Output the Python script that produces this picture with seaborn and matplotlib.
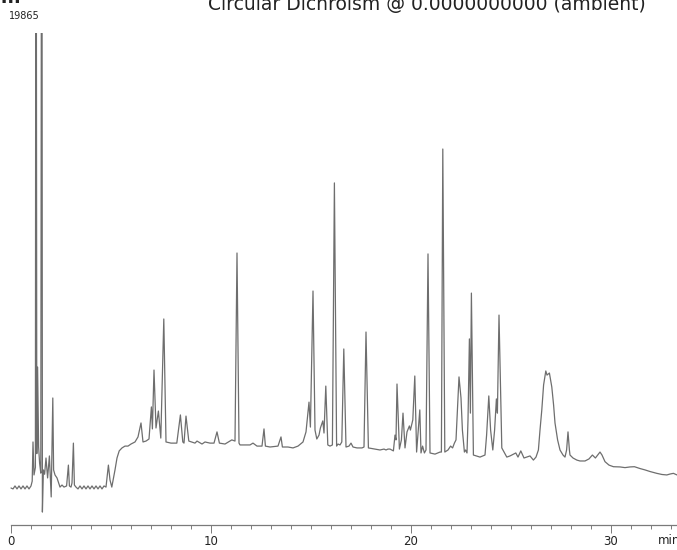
import matplotlib
matplotlib.use("Agg")
import matplotlib.pyplot as plt
import seaborn as sns

# ── Chromatogram trace ────────────────────────────────────────
time_min = [
    0.00, 0.10, 0.20, 0.30, 0.40, 0.50, 0.60, 0.70, 0.80, 0.90, 1.00,
    1.06, 1.10, 1.15, 1.22, 1.25, 1.29, 1.33, 1.38, 1.43, 1.49, 1.54,
    1.57, 1.62, 1.68, 1.75, 1.83, 1.92, 2.01, 2.09, 2.13, 2.20, 2.30,
    2.45, 2.55, 2.65, 2.78, 2.87, 2.92, 3.00, 3.05, 3.12, 3.17, 3.25,
    3.35, 3.45, 3.55, 3.65, 3.75, 3.85, 3.95, 4.05, 4.15, 4.25, 4.35,
    4.45, 4.55, 4.65, 4.75, 4.87, 4.95, 5.04, 5.20, 5.30, 5.41, 5.55,
    5.70, 5.85, 6.00, 6.20, 6.35, 6.50, 6.60, 6.75, 6.90, 7.02, 7.07,
    7.15, 7.25, 7.37, 7.49, 7.64, 7.75, 8.00, 8.29, 8.47, 8.59, 8.65,
    8.75, 8.89, 9.20, 9.30, 9.55, 9.70, 9.95, 10.15, 10.30, 10.42,
    10.70, 11.04, 11.20, 11.30, 11.40, 11.45, 11.95, 12.10, 12.30,
    12.55, 12.65, 12.72, 12.95, 13.35, 13.50, 13.57, 13.85, 14.10,
    14.35, 14.60, 14.75, 14.90, 14.97, 15.10, 15.20, 15.29, 15.40,
    15.47, 15.59, 15.65, 15.74, 15.84, 15.95, 16.07, 16.17, 16.28,
    16.35, 16.45, 16.54, 16.64, 16.75, 16.90, 17.00, 17.10, 17.30,
    17.55, 17.65, 17.75, 17.87, 18.20, 18.45, 18.65, 18.75, 18.85,
    18.95, 19.12, 19.20, 19.25, 19.30, 19.42, 19.52, 19.60, 19.70,
    19.80, 19.92, 19.97, 20.09, 20.19, 20.28, 20.44, 20.50, 20.58,
    20.67, 20.75, 20.85, 20.95, 21.20, 21.45, 21.52, 21.59, 21.69,
    21.85, 21.98, 22.08, 22.17, 22.25, 22.40, 22.50, 22.57, 22.67,
    22.73, 22.80, 22.85, 22.92, 22.97, 23.02, 23.12, 23.45, 23.70,
    23.78, 23.89, 23.98, 24.09, 24.18, 24.27, 24.32, 24.40, 24.54,
    24.79, 24.95, 25.24, 25.35, 25.49, 25.65, 25.95, 26.12, 26.25,
    26.37, 26.45, 26.54, 26.63, 26.74, 26.80, 26.92, 27.04, 27.13,
    27.20, 27.33, 27.45, 27.60, 27.70, 27.78, 27.85, 27.92, 27.95,
    28.10, 28.29, 28.45, 28.70, 28.90, 29.07, 29.22, 29.45, 29.55,
    29.70, 29.90, 30.12, 30.45, 30.70, 30.95, 31.17, 31.45, 31.70,
    31.95, 32.29, 32.55, 32.79, 32.95, 33.12, 33.30,
]

signal = [
    0, -40, 90, -40, 90, -40, 90, -40, 90, -40, 90,
    300, 2010, 570, 900, 40000, 1500, 5280, 1800, 1090, 650, 40000,
    -1050, 790, 600, 1310, 440, 1400, -390, 3930, 790, 570, 440,
    40, 130, 40, 90, 1000, 90, 40, 220, 1960, 130, 40,
    -40, 90, -40, 90, -40, 90, -40, 90, -40, 90, -40,
    90, -40, 90, 40, 1000, 350, 40, 790, 1310, 1620, 1750,
    1830, 1830, 1920, 2010, 2230, 2840, 2010, 2050, 2140, 3540, 2580,
    5150, 2620, 3360, 2180, 7380, 2010, 1960, 1960, 3190, 2010, 1960,
    3140, 2050, 1960, 2050, 1920, 2010, 1960, 1960, 2450, 1960,
    1920, 2100, 2050, 10260, 1960, 1880, 1880, 1960, 1830,
    1830, 2580, 1830, 1790, 1830, 2230, 1790, 1790, 1750,
    1830, 2010, 2450, 3750, 2660, 8600, 2530, 2140, 2310,
    2620, 2930, 2400, 4450, 1880, 1830, 1880, 13320, 1830,
    1920, 1880, 2010, 6070, 1790, 1830, 1960, 1790, 1750,
    1750, 1790, 6810, 1750, 1700, 1660, 1700, 1660, 1700,
    1700, 1620, 2310, 2100, 4540, 1700, 2100, 3270, 1750,
    2450, 2710, 2530, 2970, 4890, 1570, 3410, 1530, 1830,
    1530, 1660, 10220, 1530, 1480, 1570, 1570, 14800, 1570,
    1660, 1830, 1750, 1960, 2100, 4850, 3930, 2530, 1570,
    1660, 1530, 2970, 6510, 3270, 8510, 1440, 1350, 1440,
    2310, 4020, 2530, 1660, 2530, 3890, 3270, 7550, 1750,
    1350, 1400, 1530, 1350, 1620, 1310, 1400, 1220, 1350,
    1660, 2530, 3410, 4500, 5110, 4930, 5020, 4410, 3620,
    2840, 2100, 1660, 1440, 1350, 1660, 2450, 1660, 1440,
    1310, 1220, 1180, 1180, 1270, 1440, 1310, 1570, 1440,
    1150, 1000, 930, 920, 890, 920, 930, 850, 790,
    720, 640, 590, 570, 610, 640, 570,
]

major_ticks = [0, 10, 20, 30]
minor_ticks = list(range(0, 34))
y_top = 19865
y_bottom = -1615
title_text = "Circular Dichroism @ 0.0000000000 (ambient)"

# ── Figure ────────────────────────────────────────────────────
sns.set_style("white")
plt.rcParams['font.family'] = ['DejaVu Sans']

fig = plt.figure(figsize=(6.77, 5.50), dpi=100)
ax = fig.add_axes([0, 25 / 550, 1, 492 / 550])

sns.lineplot(
    x         = time_min,
    y         = signal,
    estimator = None,
    sort      = False,
    color     = "#6e6e6e",
    linewidth = 0.9,
    ax        = ax
)

ax.set_xlim(-0.55, 33.3)
ax.set_ylim(y_bottom, y_top)

for side in ['left', 'top', 'right']:
    ax.spines[side].set_visible(False)
ax.spines['bottom'].set_color("#7a7a7a")
ax.spines['bottom'].set_linewidth(0.9)
ax.spines['bottom'].set_bounds(0, 33.3)

ax.set_yticks([])
ax.set_xticks(major_ticks)
ax.set_xticks(minor_ticks, minor=True)
ax.set_xticklabels([str(t) for t in major_ticks])
ax.tick_params(axis='x', which='both', bottom=True)
ax.tick_params(axis='x', which='major', direction='out', length=5.8,
               width=0.7, color="#7a7a7a", pad=1.5, labelsize=8.5,
               labelcolor="#222222")
ax.tick_params(axis='x', which='minor', direction='out', length=3,
               width=0.7, color="#7a7a7a")

# labels round the plot
fig.text(658 / 677, 1 - 541 / 550, "min", fontsize=8.5, color="#222222",
         ha='left', va='center')
fig.text(9 / 677, 1 - 16 / 550, str(y_top), fontsize=7, color="#222222",
         ha='left', va='center')
fig.text(208 / 677, 1 - 10 / 550, title_text, fontsize=13.5,
         color="#222222", ha='left', va='baseline')
fig.text(0, 1 - 3 / 550, "m", fontsize=13.5, fontweight='bold',
         color="#222222", ha='left', va='baseline')

fig.savefig("out.png", dpi=100)
plt.close(fig)
